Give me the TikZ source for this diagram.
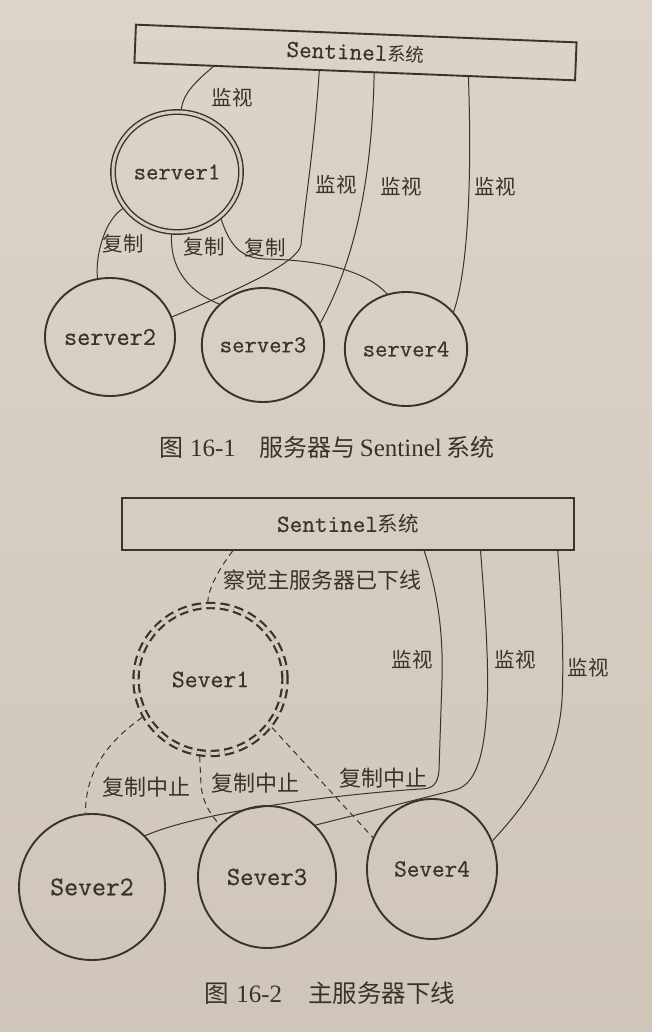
\documentclass[tikz,border=0pt]{standalone}
\usepackage{fontspec}
\newfontfamily\cjk{Noto Sans CJK SC}
\newfontfamily\capserif{Liberation Serif}
\newfontfamily\mono[FakeBold=0.6]{Latin Modern Mono}
\usetikzlibrary{shapes.geometric,calc}
\definecolor{ink}{HTML}{3A322B}
\definecolor{paper}{HTML}{D6CDC1}
\definecolor{papertop}{HTML}{DCD4C9}
\definecolor{paperbot}{HTML}{CFC6B9}
\tikzset{
  srv/.style={ellipse, draw=ink, line width=1.9pt, inner sep=0pt, text=ink,
    font=\mono\fontsize{24}{25}\selectfont},
  master/.style={srv, double=paper, double distance=3pt, line width=1.4pt, outer sep=2.9pt},
  downmaster/.style={srv, double=paper, double distance=3pt, line width=2.2pt,
    outer sep=3.7pt, dash pattern=on 9pt off 5pt},
  sbox/.style={rectangle, draw=ink, line width=1.9pt, inner sep=0pt, text=ink},
  lnk/.style={draw=ink, line width=1pt},
  dlnk/.style={lnk, dash pattern=on 6pt off 4.5pt},
  lbl/.style={text=ink, inner sep=0pt, font=\cjk\fontsize{20.5}{22}\selectfont},
  lblb/.style={lbl, font=\cjk\fontsize{22}{24}\selectfont},
  capt/.style={text=ink, inner sep=0pt}
}
\begin{document}
\begin{tikzpicture}[x=1pt,y=-1pt]
\shade[top color=papertop, bottom color=paperbot] (0,0) rectangle (652,1032);
\useasboundingbox (0,0) rectangle (652,1032);

% ---------------- Figure 16-1 ----------------
\node[sbox, minimum width=441pt, minimum height=38pt, rotate=-2.3] (tb) at (355.5,52.5)
  {{\mono\fontsize{24.5}{25}\selectfont Sentinel}{\cjk\fontsize{18.5}{20}\selectfont 系统}};
\node[master, minimum width=128pt, minimum height=120pt] (s1) at (177,172) {server1};
\node[srv, minimum width=128pt, minimum height=118pt, font=\mono\fontsize{25.5}{26}\selectfont] (s2) at (110,337) {server2};
\node[srv, minimum width=118pt, minimum height=114pt] (s3) at (263,345) {server3};
\node[srv, minimum width=116pt, minimum height=114pt] (s4) at (406,349) {server4};

\coordinate (t1) at ($(tb.south west)!0.18!(tb.south east)$);
\coordinate (t2) at ($(tb.south west)!0.42!(tb.south east)$);
\coordinate (t3) at ($(tb.south west)!0.544!(tb.south east)$);
\coordinate (t4) at ($(tb.south west)!0.757!(tb.south east)$);

\draw[lnk] (t1) .. controls (200,78) and (183,92) .. (s1.86);
\draw[lnk] (t2) .. controls (314,150) and (304,210) .. (301,245)
  .. controls (297,265) and (223,296) .. (s2.18);
\draw[lnk] (t3) .. controls (372,180) and (355,260) .. (s3.21);
\draw[lnk] (t4) .. controls (472,180) and (468,270) .. (s4.38);
\draw[lnk] (s1.214) .. controls (105,220) and (95,255) .. (s2.102);
\draw[lnk] (s1.265) .. controls (170,265) and (185,290) .. (s3.137);
\draw[lnk] (s1.313) .. controls (230,245) and (240,258) .. (265,259)
  .. controls (320,260) and (365,270) .. (s4.109);

\node[lbl] (m1) at (232,98) {监视};
\node[lbl] (m2) at (336,185) {监视};
\node[lbl] (m3) at (401,187) {监视};
\node[lbl] (m4) at (495,187) {监视};
\node[lbl] (c1) at (123,244) {复制};
\node[lbl] (c2) at (204,247) {复制};
\node[lbl] (c3) at (265,248) {复制};

\node[capt] (cap1) at (327,447)
  {{\cjk\fontsize{24}{26}\selectfont 图}\hspace{7pt}{\capserif\fontsize{25}{26}\selectfont 16-1}\hspace{24pt}{\cjk\fontsize{24}{26}\selectfont 服务器与}\hspace{4pt}{\capserif\fontsize{25}{26}\selectfont Sentinel}\hspace{5pt}{\cjk\fontsize{24}{26}\selectfont 系统}};

% ---------------- Figure 16-2 ----------------
\node[sbox, minimum width=452pt, minimum height=52pt] (bb) at (348,524)
  {{\mono\fontsize{24.5}{25}\selectfont Sentinel}{\cjk\fontsize{20.5}{22}\selectfont 系统}};
\node[downmaster, minimum width=149pt, minimum height=148pt, font=\mono\fontsize{25}{26}\selectfont] (S1) at (210.5,679.5) {Sever1};
\node[srv, minimum width=146pt, minimum height=146pt, font=\mono\fontsize{27}{28}\selectfont] (S2) at (92,887) {Sever2};
\node[srv, minimum width=138pt, minimum height=142pt, font=\mono\fontsize{26}{27}\selectfont] (S3) at (267,877) {Sever3};
\node[srv, minimum width=130pt, minimum height=140pt, font=\mono\fontsize{24.5}{25}\selectfont] (S4) at (432,869) {Sever4};

\coordinate (b1) at ($(bb.south west)!0.246!(bb.south east)$);
\coordinate (b2) at ($(bb.south west)!0.668!(bb.south east)$);
\coordinate (b3) at ($(bb.south west)!0.792!(bb.south east)$);
\coordinate (b4) at ($(bb.south west)!0.962!(bb.south east)$);

\draw[dlnk] (b1) .. controls (222,565) and (209,585) .. (S1.92);
\draw[lnk] (b2) .. controls (440,600) and (443,640) .. (442,680) -- (439,770)
  .. controls (438,785) and (432,789) .. (420,789)
  .. controls (330,795) and (200,812) .. (S2.44);
\draw[lnk] (b3) .. controls (486,620) and (490,680) .. (486,720)
  .. controls (482,770) and (470,786) .. (455,790) -- (S3.47);
\draw[lnk] (b4) .. controls (562,610) and (564,660) .. (562,700)
  .. controls (558,760) and (530,800) .. (S4.25);
\draw[dlnk] (S1.209) .. controls (110,740) and (85,770) .. (S2.95);
\draw[dlnk] (S1.262) -- (201,785) .. controls (202,800) and (210,815) .. (S3.132);
\draw[dlnk] (S1.322) -- (S4.152);

\node[lblb] (d0) at (322,580) {察觉主服务器已下线};
\node[lbl] (n1) at (412,660) {监视};
\node[lbl] (n2) at (515,660) {监视};
\node[lbl] (n3) at (588,668) {监视};
\node[lblb] (d1) at (146,787) {复制中止};
\node[lblb] (d2) at (255,783) {复制中止};
\node[lblb] (d3) at (383,778) {复制中止};

\node[capt] (cap2) at (330,993)
  {{\cjk\fontsize{24.5}{26}\selectfont 图}\hspace{7pt}{\capserif\fontsize{25}{26}\selectfont 16-2}\hspace{26pt}{\cjk\fontsize{24.5}{26}\selectfont 主服务器下线}};
\end{tikzpicture}
\end{document}
